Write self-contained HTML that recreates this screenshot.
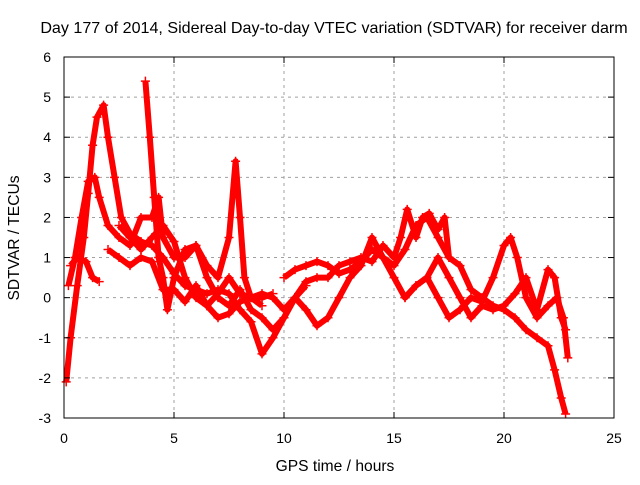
<!DOCTYPE html>
<html><head><meta charset="utf-8"><style>
body{margin:0;background:#fff}
svg text{font-family:"Liberation Sans",sans-serif;font-size:14px;fill:#000}
</style></head><body>
<svg id="chart" width="640" height="480" xmlns="http://www.w3.org/2000/svg">
<rect width="640" height="480" fill="#fff"/>
<text x="334" y="33" text-anchor="middle" style="font-size:16.1px">Day 177 of 2014, Sidereal Day-to-day VTEC variation (SDTVAR) for receiver darm</text>
<text x="335" y="471" text-anchor="middle" style="font-size:15.6px">GPS time / hours</text>
<text transform="translate(19,238) rotate(-90)" text-anchor="middle" style="font-size:15.6px">SDTVAR / TECUs</text>
<g id="grid"></g><g id="series"></g><g id="axes"></g>
</svg>
<script>
const xTicks=[0,5,10,15,20,25];
const yTicks=[-3,-2,-1,0,1,2,3,4,5,6];
const s1=[[0.1,-2.1],[0.3,-1],[0.6,0.3],[0.9,1.5],[1.1,2.6],[1.3,3.8],[1.5,4.5],[1.8,4.8],[2,4],[2.3,3],[2.6,2],[3,1.6],[3.5,1.4],[4,1.3],[4.5,1.0],[5,0.6],[5.5,0.3],[6,0.2],[6.5,0.1],[7,0.2],[7.5,0.1],[8,-0.3],[8.5,-0.6],[9,-1.4],[9.5,-1],[10,-0.5],[10.5,0],[11,0.3]];
const s2=[[0.2,0.3],[0.5,1],[0.8,2],[1.1,2.9],[1.4,3],[1.6,2.5],[2,1.8],[2.5,1.5],[3,1.3],[3.5,2],[4,2],[4.3,2.5],[4.5,1.5],[5,1],[5.5,1],[6,1.3],[6.5,0.8],[7,0.5],[7.5,1.5],[7.8,3.4],[8,2],[8.2,0.5],[8.5,0],[9,0],[9.5,0.1]];
const s3=[[0.3,0.8],[0.6,1],[1,0.9],[1.3,0.5],[1.6,0.4]];
const s4=[[3.7,5.4],[3.9,4],[4.1,2.5],[4.3,1],[4.5,0.5],[4.7,-0.3],[5,0.5],[5.5,1.2],[6,1.3],[6.5,0.5],[7,0],[7.5,-0.2],[8,0.2],[8.5,-0.3],[9,-0.5],[9.5,-0.8],[10,-0.5],[10.5,0],[11,-0.3],[11.5,-0.7],[12,-0.5],[12.5,0],[13,0.5],[13.5,0.8],[14,1.5],[14.5,1],[15,0.8],[15.5,1.2],[16,1.8],[16.5,2],[17,1.5],[17.5,1],[18,0.8],[18.5,0.2],[19,0],[19.5,-0.2],[20,-0.3],[20.5,-0.5],[21,-0.8],[21.5,-1],[22,-1.2],[22.3,-1.8],[22.6,-2.5],[22.8,-2.9]];
const s5=[[10,0.5],[10.5,0.7],[11,0.8],[11.5,0.9],[12,0.8],[12.5,0.6],[13,0.7],[13.5,0.9],[14,1.2],[14.5,1.0],[15,0.5],[15.5,0],[16,0.3],[16.5,0.5],[17,0],[17.5,-0.5],[18,-0.3],[18.5,0],[19,-0.1],[19.5,0.5],[20,1.3],[20.3,1.5],[20.6,1],[21,0],[21.5,-0.5],[22,-0.2],[22.4,0],[22.7,-0.5],[22.9,-1.5]];
const s6=[[2.5,1.8],[3,1.5],[3.5,1.2],[4,1.5],[4.5,1.8],[5,1.4],[5.5,0.5],[6,0],[6.5,-0.2],[7,-0.5],[7.5,-0.4],[8,-0.1],[8.5,0],[9,0.1],[9.5,0],[10,-0.3],[10.5,0],[11,0.4],[11.5,0.5],[12,0.5],[12.5,0.8],[13,0.9],[13.5,1],[14,0.9],[14.5,1.3],[15,1.0],[15.3,1.5],[15.6,2.2],[16,1.5],[16.3,2],[16.6,2.1],[17,1.7],[17.3,2],[17.5,1.0]];
const s7=[[15.5,0],[16,0.3],[16.5,0.5],[17,1],[17.5,0.5],[18,0],[18.5,-0.5],[19,-0.2],[19.5,-0.3],[20,-0.2],[20.5,0.1],[21,0.5],[21.5,-0.3],[22,0.7],[22.3,0.5],[22.6,-0.5],[22.8,-0.8]];
const s8=[[2,1.2],[2.5,1.0],[3,0.8],[3.5,1.0],[4,0.9],[4.5,0.2],[5,0.2],[5.5,-0.1],[6,0.3],[6.5,-0.2],[7,0.1],[7.5,0.5],[8,0.1],[8.5,0],[9,-0.2]];
const allSeries=[s1,s2,s3,s4,s5,s6,s7,s8];
const X0=64,X1=614,Y0=418,Y1=57;
function sx(v){return X0+(v-0)/(25-0)*(X1-X0);}
function sy(v){return Y0-(v+3)/(9)*(Y0-Y1);}
const NS="http://www.w3.org/2000/svg";
function mk(t,a,p){const e=document.createElementNS(NS,t);for(const k in a)e.setAttribute(k,a[k]);p.appendChild(e);return e;}
const grid=document.getElementById('grid'),axes=document.getElementById('axes'),ser=document.getElementById('series');
xTicks.forEach(v=>{const x=sx(v);
 if(v>0&&v<25){const g=mk('line',{x1:x,x2:x,y1:Y1,y2:Y0,stroke:'#a0a0a0','stroke-dasharray':'3,4'},grid);}
 const t=mk('line',{x1:x,x2:x,y1:Y0,y2:Y0-6,stroke:'#000'},axes);
 mk('line',{x1:x,x2:x,y1:Y1,y2:Y1+6,stroke:'#000'},axes);
 const l=mk('text',{x:x,y:443,'text-anchor':'middle'},axes);l.textContent=v;
 });
yTicks.forEach(v=>{const y=sy(v);
 if(v>-3&&v<6){const g=mk('line',{x1:X0,x2:X1,y1:y,y2:y,stroke:'#a0a0a0','stroke-dasharray':'3,4'},grid);}
 const t=mk('line',{x1:X0,x2:X0+6,y1:y,y2:y,stroke:'#000'},axes);
 mk('line',{x1:X1,x2:X1-6,y1:y,y2:y,stroke:'#000'},axes);
 const l=mk('text',{x:51,y:y+5,'text-anchor':'end'},axes);l.textContent=v;
 });
const fr=mk('rect',{x:X0,y:Y1,width:X1-X0,height:Y0-Y1,fill:'none',stroke:'#000'},axes);

allSeries.forEach((s,i)=>{
 const pl=mk('polyline',{points:s.map(p=>sx(p[0])+','+sy(p[1])).join(' '),fill:'none',stroke:'#f00','stroke-width':6,'stroke-linejoin':'round'},ser);
 
 
 s.forEach(p=>{const x=sx(p[0]),y=sy(p[1]);
  const m=mk('path',{d:`M${x-4.5},${y}H${x+4.5}M${x},${y-4.5}V${y+4.5}`,stroke:'#f00','stroke-width':1.5},ser);
  
  });
});
</script>
</body></html>
